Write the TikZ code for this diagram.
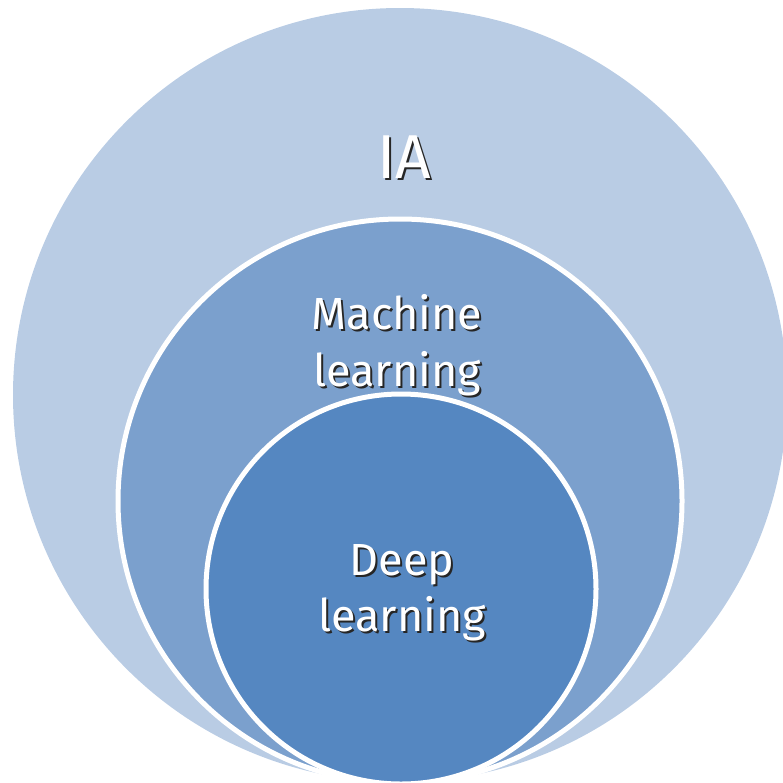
\documentclass[tikz,border=0pt]{standalone}
\usepackage{fontspec}
\setmainfont{Fira Sans}
\definecolor{cbig}{HTML}{B9CCE4}
\definecolor{cmid}{HTML}{7BA0CD}
\definecolor{csmall}{HTML}{5587C1}
\newcommand{\shw}[1]{\leavevmode\rlap{\kern2pt\raisebox{-2pt}{\textcolor{black!85}{#1}}}#1}
\begin{document}
\begin{tikzpicture}[x=1pt,y=-1pt,
  ring/.style={draw=white,line width=5pt},
  lbl/.style={text=white,align=center,inner sep=0pt}]
\useasboundingbox (0,0) rectangle (783,782);
\begin{scope}
\clip (0,0) rectangle (783,782);
\fill[cbig] (400,395) circle (387);
\draw[ring,fill=cmid] (400,501) circle (282);
\draw[ring,fill=csmall] (401,589) circle (195);
\end{scope}
\node[lbl,font=\fontsize{62}{70}\selectfont] (ia) at (404,158) {\shw{IA}};
\node[lbl,font=\fontsize{45}{57}\selectfont] (ml) at (397,346) {\shw{Machine}\\\shw{learning}};
\node[lbl,font=\fontsize{45}{56}\selectfont] (dl) at (402,594) {\shw{Deep}\\\shw{learning}};
\end{tikzpicture}
\end{document}
